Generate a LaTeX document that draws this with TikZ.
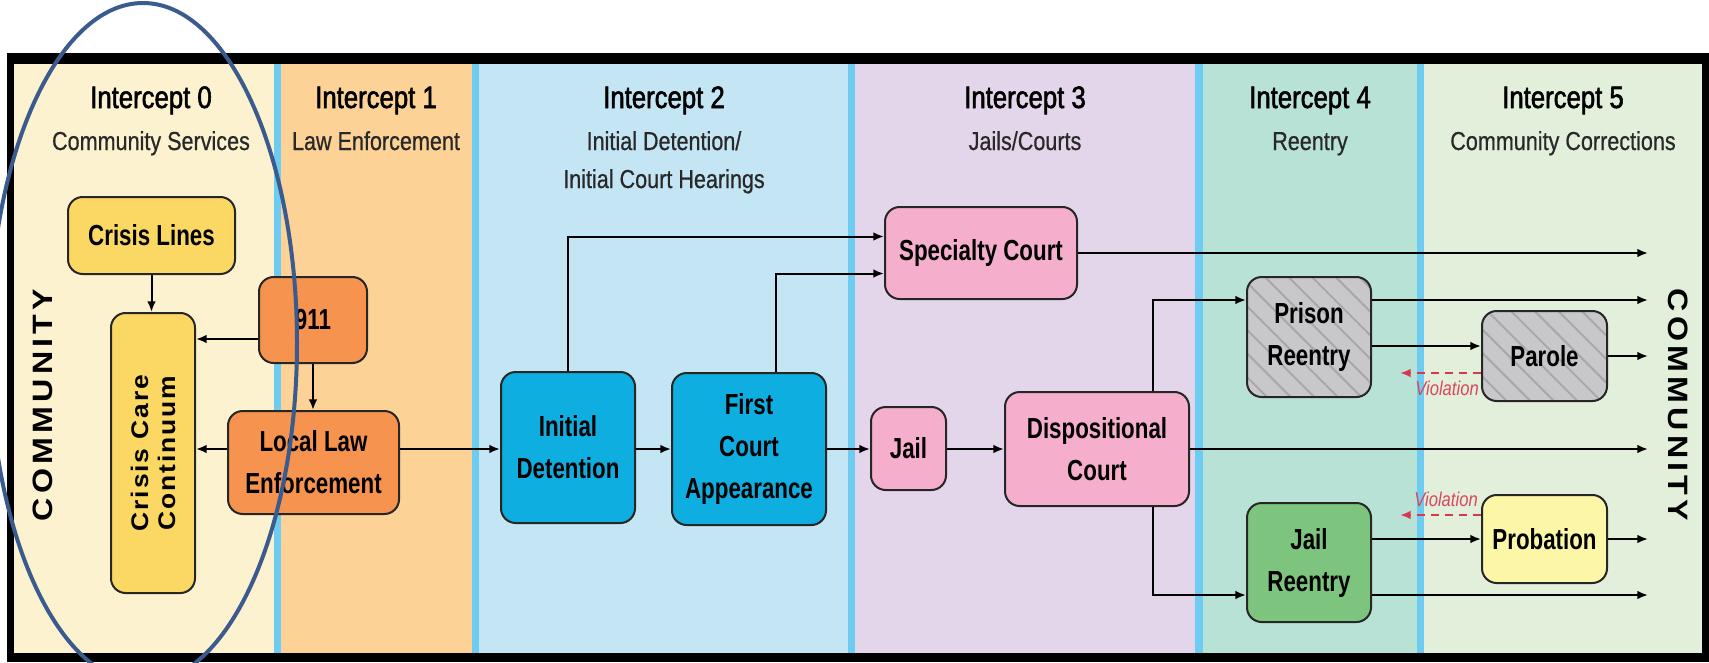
\documentclass[tikz,border=0pt]{standalone}
\usepackage{fontspec}
\setmainfont{Liberation Sans}[FakeStretch=0.83]
\newfontfamily\boxfont{Liberation Sans}[FakeStretch=0.77]
\newfontfamily\titlefont{Liberation Sans}[FakeStretch=0.83,FakeBold=1.8]
\newfontfamily\subfont{Liberation Sans}[FakeStretch=0.83,FakeBold=0.6]
\newfontfamily\commfont{Liberation Sans}[FakeStretch=1.15,LetterSpace=15]
\newfontfamily\carefont{Liberation Sans}[FakeStretch=1.1,LetterSpace=8]
\usetikzlibrary{arrows.meta,patterns.meta}

\begin{document}
\begin{tikzpicture}[x=0.75pt,y=0.75pt,yscale=-1,xscale=1,
  box/.style={draw={rgb, 255:red, 38; green, 38; blue, 38 }, line width=1.5pt, rounded corners=11pt, inner sep=0pt, align=center, font=\boxfont\bfseries\fontsize{21.75pt}{31.5pt}\selectfont},
  yellowbox/.style={box, fill={rgb, 255:red, 251; green, 215; blue, 100 }},
  orangebox/.style={box, fill={rgb, 255:red, 245; green, 147; blue, 79 }},
  bluebox/.style={box, fill={rgb, 255:red, 15; green, 174; blue, 224 }},
  pinkbox/.style={box, fill={rgb, 255:red, 245; green, 174; blue, 203 }},
  greenbox/.style={box, fill={rgb, 255:red, 125; green, 197; blue, 127 }},
  paleyellowbox/.style={box, fill={rgb, 255:red, 252; green, 247; blue, 166 }},
  graybox/.style={box, preaction={fill={rgb, 255:red, 200; green, 200; blue, 203 }}, pattern={Lines[angle=-45,distance=12.5pt,line width=1.5pt]}, pattern color={rgb, 255:red, 168; green, 168; blue, 170 }},
  arr/.style={line width=1.5pt, -{Latex[length=8pt,width=6.5pt]}},
  viol/.style={draw={rgb, 255:red, 214; green, 56; blue, 80 }, line width=1.5pt, dash pattern=on 6pt off 4.5pt, -{Latex[length=8pt,width=6.5pt]}},
  violtext/.style={inner sep=0pt, font=\itshape\fontsize{15pt}{18pt}\selectfont, text={rgb, 255:red, 217; green, 71; blue, 92 }},
  title/.style={anchor=base, inner sep=0pt, font=\titlefont\fontsize{23.25pt}{28pt}\selectfont},
  sub/.style={anchor=base, inner sep=0pt, font=\subfont\fontsize{19.5pt}{23pt}\selectfont, text={rgb, 255:red, 40; green, 40; blue, 40 }},
  sidetext/.style={inner sep=0pt, font=\commfont\bfseries\fontsize{21pt}{24pt}\selectfont}]
\clip (0,0) rectangle (1709,662);

%Shape: Frame
\fill [color=black] (7,53) rectangle (1709,662);
%Shape: Bands
\fill [color={rgb, 255:red, 253; green, 242; blue, 208 }] (14,64) rectangle (274,653);
\fill [color={rgb, 255:red, 253; green, 210; blue, 150 }] (281,64) rectangle (472,653);
\fill [color={rgb, 255:red, 195; green, 229; blue, 244 }] (479,64) rectangle (848,653);
\fill [color={rgb, 255:red, 228; green, 214; blue, 234 }] (855,64) rectangle (1195,653);
\fill [color={rgb, 255:red, 185; green, 226; blue, 214 }] (1203,64) rectangle (1417,653);
\fill [color={rgb, 255:red, 226; green, 240; blue, 219 }] (1424,64) rectangle (1702,653);
%Shape: Separators
\fill [color={rgb, 255:red, 110; green, 203; blue, 242 }] (274,64) rectangle (281,653);
\fill [color={rgb, 255:red, 110; green, 203; blue, 242 }] (472,64) rectangle (479,653);
\fill [color={rgb, 255:red, 110; green, 203; blue, 242 }] (848,64) rectangle (855,653);
\fill [color={rgb, 255:red, 110; green, 203; blue, 242 }] (1195,64) rectangle (1203,653);
\fill [color={rgb, 255:red, 110; green, 203; blue, 242 }] (1417,64) rectangle (1424,653);

% Text Node
\node [title] (t0) at (151,108) {Intercept 0};
\node [sub] (s0) at (151,150) {Community Services};
\node [title] (t1) at (376,108) {Intercept 1};
\node [sub] (s1) at (376,150) {Law Enforcement};
\node [title] (t2) at (664,108) {Intercept 2};
\node [sub] (s2) at (664,150) {Initial Detention/};
\node [sub] (s2b) at (664,188) {Initial Court Hearings};
\node [title] (t3) at (1025,108) {Intercept 3};
\node [sub] (s3) at (1025,150) {Jails/Courts};
\node [title] (t4) at (1310,108) {Intercept 4};
\node [sub] (s4) at (1310,150) {Reentry};
\node [title] (t5) at (1563,108) {Intercept 5};
\node [sub] (s5) at (1563,150) {Community Corrections};

% Text Node
\node [sidetext, rotate=90] (commleft) at (43,405) {COMMUNITY};
\node [sidetext, rotate=-90] (commright) at (1678,405) {COMMUNITY};

%Shape: Boxes
\node [yellowbox, minimum width=125.25pt, minimum height=57.75pt] (crisislines) at (151.5,235.5) {Crisis Lines};
\node [yellowbox, minimum width=63pt, minimum height=210pt] (crisiscare) at (153,453) {};
\node [rotate=90, inner sep=0pt, align=center, font=\carefont\bfseries\fontsize{18pt}{20.25pt}\selectfont] (crisiscaretext) at (crisiscare.center) {Crisis Care\\Continuum};
\node [orangebox, minimum width=81pt, minimum height=64.5pt] (nineoneone) at (313,320) {911};
\node [orangebox, minimum width=128.25pt, minimum height=77.25pt] (locallaw) at (313.5,462.5) {Local Law\\Enforcement};
\node [bluebox, minimum width=100.5pt, minimum height=113.25pt] (initdet) at (568,447.5) {Initial\\Detention};
\node [bluebox, minimum width=115.5pt, minimum height=114pt] (firstcourt) at (749,449) {First\\Court\\Appearance};
\node [pinkbox, minimum width=144pt, minimum height=69pt] (specialty) at (981,253) {Specialty Court};
\node [pinkbox, minimum width=56.25pt, minimum height=62.25pt] (jail) at (908.5,448.5) {Jail};
\node [pinkbox, minimum width=138pt, minimum height=85.5pt] (dispo) at (1097,449) {Dispositional\\Court};
\node [graybox, minimum width=93pt, minimum height=90pt] (prison) at (1309,337) {Prison\\Reentry};
\node [graybox, minimum width=93.75pt, minimum height=67.5pt] (parole) at (1544.5,356) {Parole};
\node [greenbox, minimum width=93pt, minimum height=89.25pt] (jailreentry) at (1309,562.5) {Jail\\Reentry};
\node [paleyellowbox, minimum width=93.75pt, minimum height=66pt] (probation) at (1544.5,539) {Probation};

% Connectors
\coordinate (row) at (0,449);
\coordinate (y911) at (0,339);
\coordinate (sctop) at (0,236.5);
\coordinate (scbot) at (0,273.5);
\coordinate (ypr) at (0,300);
\coordinate (ypa) at (0,346);
\coordinate (yjr) at (0,595);
\coordinate (comm) at (1648,0);
\coordinate (viol1) at (1400,373);
\coordinate (viol2) at (1400,515);

\draw [arr] (crisislines.south) -- (crisislines.south |- crisiscare.north);
\draw [arr] (nineoneone.west |- y911) -- (crisiscare.east |- y911);
\draw [arr] (nineoneone.south) -- (nineoneone.south |- locallaw.north);
\draw [arr, {Latex[length=8pt,width=6.5pt]}-] (crisiscare.east |- row) -- (locallaw.west |- row);
\draw [arr] (locallaw.east |- row) -- (initdet.west |- row);
\draw [arr] (initdet.east |- row) -- (firstcourt.west |- row);
\draw [arr] (firstcourt.east |- row) -- (jail.west |- row);
\draw [arr] (jail.east |- row) -- (dispo.west |- row);
\draw [arr] (initdet.north) |- (specialty.west |- sctop);
\draw [arr] ([xshift=20.25pt]firstcourt.north) |- (specialty.west |- scbot);
\draw [arr] (specialty.east) -- (comm |- specialty.east);
\draw [arr] ([xshift=42pt]dispo.north) |- (prison.west |- ypr);
\draw [arr] ([xshift=42pt]dispo.south) |- (jailreentry.west |- yjr);
\draw [arr] (dispo.east |- row) -- (comm |- row);
\draw [arr] (prison.east |- ypr) -- (comm |- ypr);
\draw [arr] (prison.east |- ypa) -- (parole.west |- ypa);
\draw [arr] (parole.east) -- (comm |- parole.east);
\draw [arr] (jailreentry.east |- probation.west) -- (probation.west);
\draw [arr] (probation.east) -- (comm |- probation.east);
\draw [arr] (jailreentry.east |- yjr) -- (comm |- yjr);
\draw [viol] (parole.west |- viol1) -- (viol1);
\draw [viol] (probation.west |- viol2) -- (viol2);

% Text Node
\node [violtext, anchor=north east] (violparole) at (1479,381) {Violation};
\node [violtext, anchor=south east] (violprobation) at (1478,507) {Violation};

%Shape: Ellipse
\draw [color={rgb, 255:red, 59; green, 91; blue, 142 }, line width=3pt] (143,343) ellipse [x radius=115.5pt, y radius=255pt];

\end{tikzpicture}
\end{document}
